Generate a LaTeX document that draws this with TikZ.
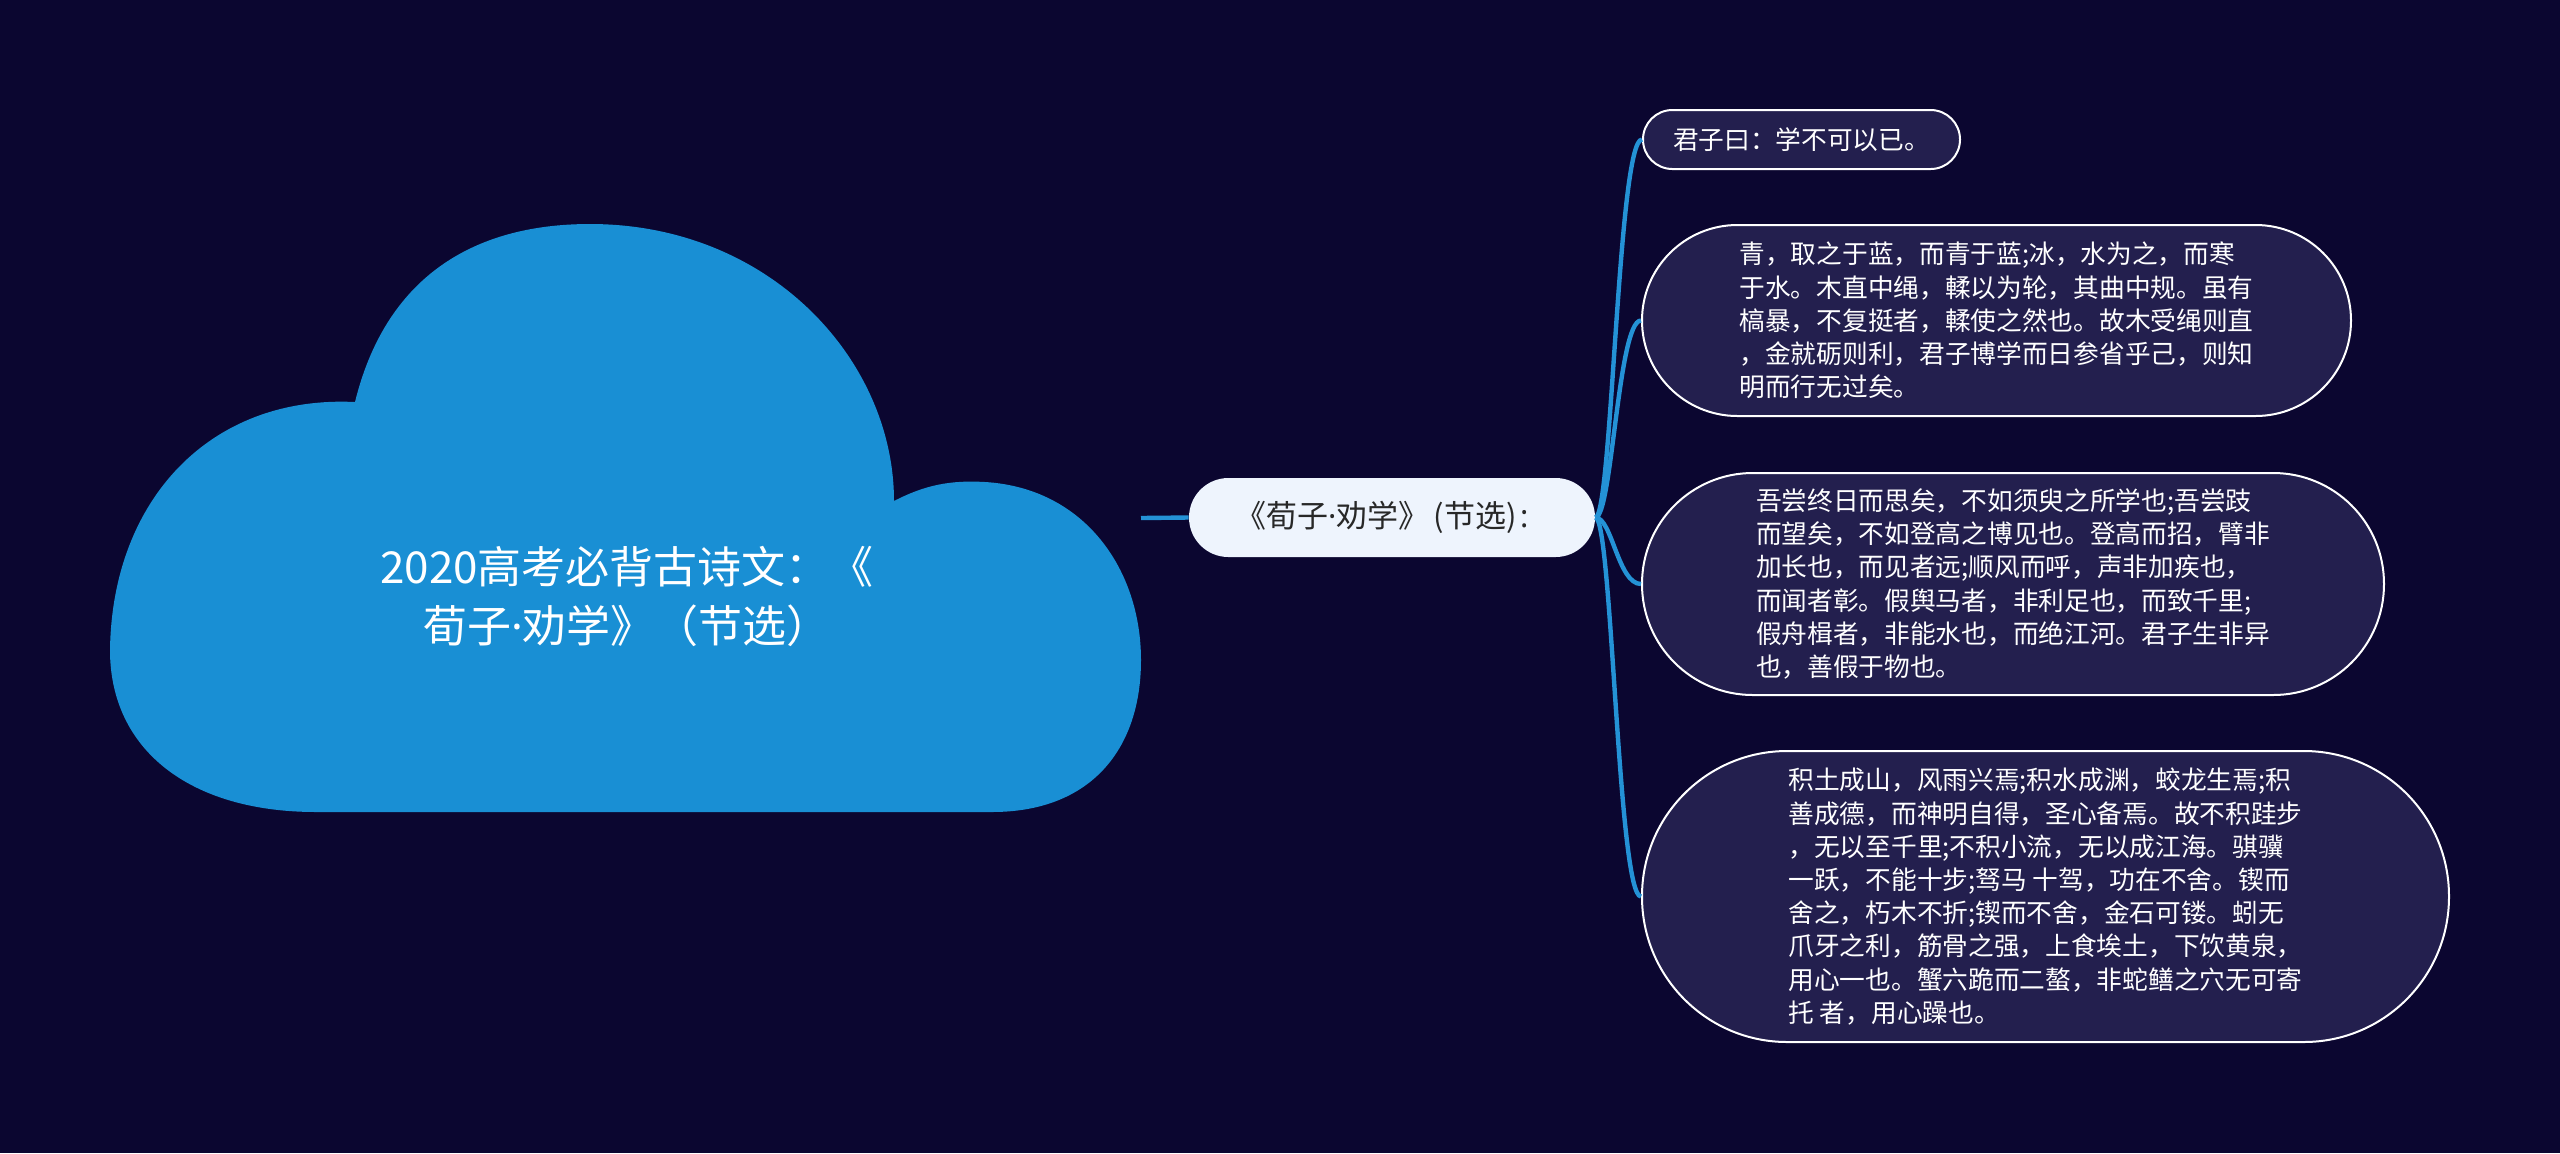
\documentclass[tikz,border=0pt]{standalone}
\usepackage{fontspec}
\setmainfont{Noto Sans CJK SC}
\newfontfamily\latinfont{Noto Sans}
\newcommand\mdot{{\latinfont ·}}
\definecolor{bgc}{RGB}{11,6,48}
\definecolor{cloudblue}{RGB}{25,143,212}
\definecolor{linkblue}{RGB}{36,146,214}
\definecolor{boxfill}{RGB}{35,31,78}
\definecolor{midfill}{RGB}{238,244,253}
\definecolor{midtext}{RGB}{40,40,40}
\begin{document}
\begin{tikzpicture}[x=0.5pt,y=-0.5pt,
  leaf/.style={draw=white, line width=1pt, fill=boxfill, text=white, align=left,
    font=\fontsize{12.85pt}{16.6pt}\selectfont, inner sep=0pt},
  midnode/.style={fill=midfill, text=midtext, font=\fontsize{15.5pt}{18pt}\selectfont,
    inner sep=0pt, minimum width=203pt, minimum height=39.5pt, rounded corners=19.7pt},
  titlenode/.style={text=white, align=center, font=\fontsize{22pt}{29.5pt}\selectfont, inner sep=0pt},
  link/.style={draw=linkblue, line width=2.2pt}]
\fill[bgc] (0,0) rectangle (2560,1153);
\useasboundingbox (0,0) rectangle (2560,1153);
% cloud
\fill[cloudblue] (316,812) .. controls (190,812) and (110,750) .. (110,650)
  .. controls (112,500) and (210,395) .. (355,402)
  .. controls (385,280) and (470,224) .. (590,224)
  .. controls (770,224) and (894,360) .. (894,501)
  .. controls (925,485) and (950,480) .. (985,482)
  .. controls (1085,488) and (1141,570) .. (1141,660)
  .. controls (1141,750) and (1090,812) .. (992,812) -- cycle;
\node[titlenode] (root) at (627,596) {2020高考必背古诗文：《\\荀子\mdot 劝学》（节选）};
\coordinate (cloudR) at (1141,518);
% central node
\node[midnode] (mid) at (1392,517.5) {《荀子\mdot 劝学》\hspace{2pt}(节选)\hspace{2pt}{\latinfont :}\kern10pt\null};
% leaves
\node[leaf, minimum width=158.5pt, minimum height=29.5pt, rounded corners=14.7pt] (c1) at (1801.5,139.5)
  {君子曰：学不可以已。};
\node[leaf, minimum width=354.5pt, minimum height=95.5pt, rounded corners=47.7pt] (c2) at (1996.5,320.5)
  {青，取之于蓝，而青于蓝;冰，水为之，而寒\\
   于水。木直中绳，輮以为轮，其曲中规。虽有\\
   槁暴，不复挺者，輮使之然也。故木受绳则直\\
   ，金就砺则利，君子博学而日参省乎己，则知\\
   明而行无过矣。};
\node[leaf, minimum width=371pt, minimum height=111pt, rounded corners=55.4pt] (c3) at (2013,584)
  {吾尝终日而思矣，不如须臾之所学也;吾尝跂\\
   而望矣，不如登高之博见也。登高而招，臂非\\
   加长也，而见者远;顺风而呼，声非加疾也，\\
   而闻者彰。假舆马者，非利足也，而致千里;\\
   假舟楫者，非能水也，而绝江河。君子生非异\\
   也，善假于物也。};
\node[leaf, minimum width=403.5pt, minimum height=145.5pt, rounded corners=72.6pt] (c4) at (2045.5,896.5)
  {积土成山，风雨兴焉;积水成渊，蛟龙生焉;积\\
   善成德，而神明自得，圣心备焉。故不积跬步\\
   ，无以至千里;不积小流，无以成江海。骐骥\\
   一跃，不能十步;驽马 十驾，功在不舍。锲而\\
   舍之，朽木不折;锲而不舍，金石可镂。蚓无\\
   爪牙之利，筋骨之强，上食埃土，下饮黄泉，\\
   用心一也。蟹六跪而二螯，非蛇鳝之穴无可寄\\
   托 者，用心躁也。};
% connectors
\draw[link] (cloudR) -- (mid.west);
\draw[link] (mid.east) .. controls (1612,517.5) and (1618,139.5) .. (c1.west);
\draw[link] (mid.east) .. controls (1612,517.5) and (1618,320.5) .. (c2.west);
\draw[link] (mid.east) .. controls (1612,517.5) and (1618,584) .. (c3.west);
\draw[link] (mid.east) .. controls (1612,517.5) and (1618,896.5) .. (c4.west);
\end{tikzpicture}
\end{document}
